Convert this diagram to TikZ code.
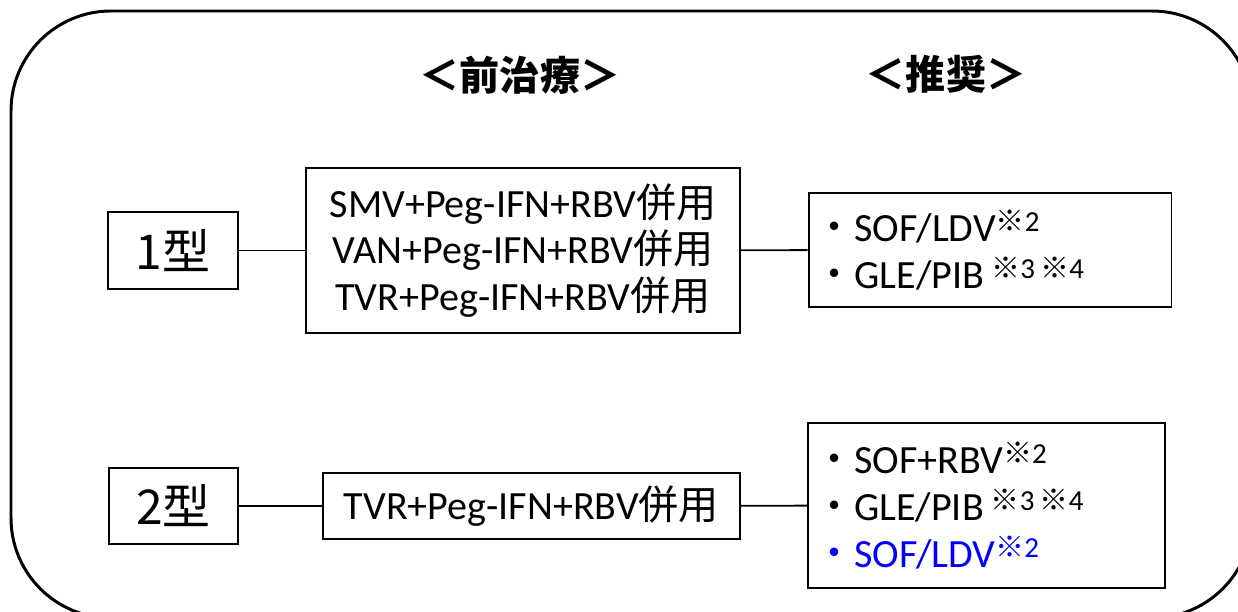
\documentclass[tikz,border=0pt]{standalone}
\usepackage{fontspec}
\setmainfont{Carlito}
\newfontfamily\jp{Noto Sans CJK JP}
\usepackage{tikz}
\definecolor{recblue}{RGB}{0,0,255}
\newcommand{\bodysize}{\fontsize{22.8pt}{26.7pt}\selectfont}
\newcommand{\kome}[1]{\raisebox{6pt}{\fontsize{16.5pt}{16.5pt}\selectfont{\jp ※}#1}}

\begin{document}
\begin{tikzpicture}[x=0.02cm, y=-0.02cm,
  box/.style={draw, line width=1.1pt, inner sep=0pt, font=\bodysize, align=center},
  head/.style={font={\jp\bfseries\fontsize{22.8pt}{22.8pt}\selectfont}},
  typ/.style={font={\jp\fontsize{27.3pt}{27.3pt}\selectfont}},
  link/.style={line width=1.1pt}]
\useasboundingbox (0,0) rectangle (1238,612);
\begin{scope}
\clip (0,0) rectangle (1238,612);
\draw[line width=1.7pt, rounded corners=2cm] (11,11) rectangle (1252,618);
\end{scope}

\node[head] (hpre) at (520,75) {＜前治療＞};
\node[head] (hrec) at (946,74) {＜推奨＞};

\node[box, typ, minimum width=2.6cm, minimum height=1.54cm] (t1) at (173,250.5) {1型};
\node[box, minimum width=8.68cm, minimum height=3.3cm] (p1) at (523,250.5)
  {SMV+Peg-IFN+RBV{\jp 併用}\\VAN+Peg-IFN+RBV{\jp 併用}\\TVR+Peg-IFN+RBV{\jp 併用}};
\node[box, align=left, text width=7.02cm, inner xsep=0.12cm, minimum height=2.28cm] (r1) at (990,250)
  {{\jp ・}SOF/LDV\kome{2}\\{\jp ・}GLE/PIB\kern4pt\kome{3}\kern3pt\kome{4}};

\node[box, typ, minimum width=2.58cm, minimum height=1.52cm] (t2) at (173.5,506) {2型};
\node[box, minimum width=8.34cm, minimum height=1.32cm] (p2) at (531.5,506) {TVR+Peg-IFN+RBV{\jp 併用}};
\node[box, align=left, text width=6.9cm, inner xsep=0.12cm, minimum height=3.3cm] (r2) at (986.5,505.5)
  {{\jp ・}SOF+RBV\kome{2}\\{\jp ・}GLE/PIB\kern4pt\kome{3}\kern3pt\kome{4}\\{\color{recblue}{\jp ・}SOF/LDV\kome{2}}};

\draw[link] (t1) -- (p1);
\draw[link] (p1) -- (r1);
\draw[link] (t2) -- (p2);
\draw[link] (p2) -- (r2);
\end{tikzpicture}
\end{document}
